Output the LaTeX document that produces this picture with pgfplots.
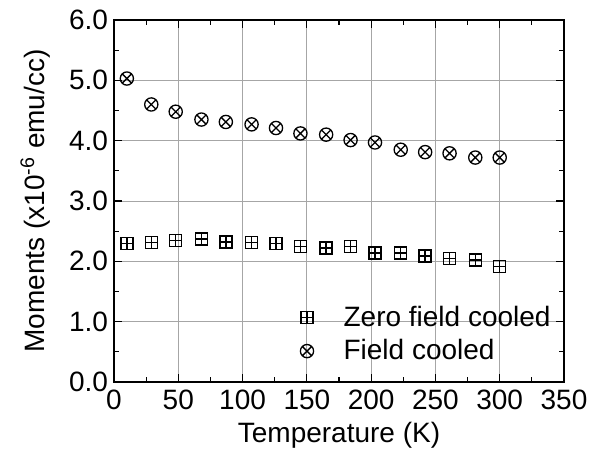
\documentclass[border=0pt]{standalone}
\usepackage{fontspec}
\setmainfont{Liberation Sans}
\usepackage{pgfplots}
\pgfplotsset{compat=1.18}
\pgfdeclareplotmark{squareplus}{%
  \pgfpathrectangle{\pgfqpoint{-\pgfplotmarksize}{-\pgfplotmarksize}}{\pgfqpoint{2\pgfplotmarksize}{2\pgfplotmarksize}}%
  \pgfpathmoveto{\pgfqpoint{-\pgfplotmarksize}{0pt}}\pgfpathlineto{\pgfqpoint{\pgfplotmarksize}{0pt}}%
  \pgfpathmoveto{\pgfqpoint{0pt}{-\pgfplotmarksize}}\pgfpathlineto{\pgfqpoint{0pt}{\pgfplotmarksize}}%
  \pgfusepathqstroke}
\begin{document}
\begin{tikzpicture}
\useasboundingbox (-57pt,-36.5pt) rectangle (241.5pt,191pt);
\begin{axis}[
  scale only axis,
  width=225pt, height=181pt,
  xmin=0, xmax=350, ymin=0, ymax=6,
  xtick={0,50,...,350},
  ytick={0,1,...,6},
  minor x tick num=1,
  minor y tick num=1,
  tick align=inside,
  major tick length=4pt,
  minor tick length=2.5pt,
  axis line style={line width=0.8pt},
  every tick/.style={black, line width=0.6pt},
  grid=major,
  major grid style={gray!70, line width=0.5pt},
  /pgf/number format/assume math mode=true,
  y tick label style={xshift=0.5pt},
  yticklabel={\pgfmathprintnumber[fixed, fixed zerofill, precision=1]{\tick}},
  ticklabel style={font=\fontsize{14}{16}\selectfont},
  x tick label style={yshift=-0.5pt},
  label style={font=\fontsize{14}{16}\selectfont},
  xlabel={Temperature (K)},
  ylabel={Moments (x10\textsuperscript{-6} emu/cc)},
  xlabel style={yshift=0.5pt},
  ylabel style={yshift=2.5pt},
  legend style={draw=none, fill=none, at={(rel axis cs:0.40,0.03)}, anchor=south west,
    font=\fontsize{14}{16}\selectfont, row sep=1pt},
  legend cell align=left,
]
\addplot[only marks, mark=squareplus, mark size=3pt, mark options={line width=0.65pt, black}] coordinates {
(10,2.30) (29,2.31) (48,2.35) (68,2.37) (87,2.32) (107,2.31) (126,2.30) (145,2.25)
(165,2.22) (184,2.25) (203,2.14) (223,2.14) (242,2.09) (261,2.05) (281,2.02) (300,1.92)
};
\addlegendentry{\hspace{13pt}Zero field cooled}
\addplot[only marks, mark=otimes, mark size=3.3pt, mark options={line width=0.65pt, black}] coordinates {
(10,5.03) (29,4.60) (48,4.48) (68,4.35) (87,4.31) (107,4.27) (126,4.21) (145,4.12)
(165,4.10) (184,4.01) (203,3.97) (223,3.85) (242,3.81) (261,3.79) (281,3.72) (300,3.72)
};
\addlegendentry{\hspace{13pt}Field cooled}
\end{axis}
\end{tikzpicture}
\end{document}
